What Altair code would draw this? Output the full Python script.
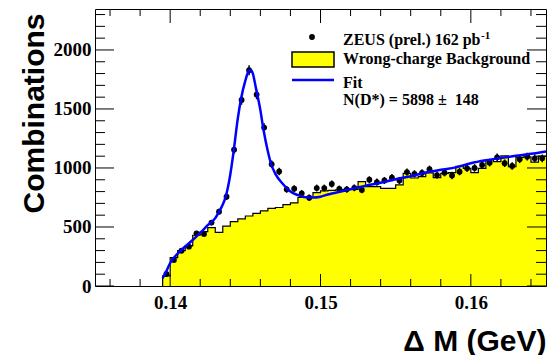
import altair as alt
import pandas as pd

# ---------------- data ----------------
bin_start = 0.1395
bin_width = 0.0005
data_counts = [102, 220, 299, 333, 446, 441, 537, 630, 757, 1155, 1576, 1828, 1622, 1342, 1032,
               970, 819, 825, 785, 748, 830, 830, 864, 822, 819, 832, 814, 900, 880, 894, 918,
               894, 965, 950, 958, 989, 940, 960, 936, 969, 997, 1000, 1025, 1045, 1090, 1040,
               1017, 1074, 1096, 1082, 1082]
data_errors = [10, 15, 17, 18, 21, 21, 23, 25, 28, 34, 40, 43, 40, 37, 32,
               31, 29, 29, 28, 27, 29, 29, 29, 29, 29, 29, 29, 30, 30, 30, 30,
               30, 31, 31, 31, 31, 31, 31, 31, 31, 32, 32, 32, 32, 33, 32,
               32, 33, 33, 33, 33]
bg_counts = [85, 240, 300, 340, 430, 460, 494, 455, 508, 545, 568, 593, 616, 636, 658,
             665, 690, 705, 750, 750, 791, 806, 810, 815, 819, 819, 884, 842, 842, 828, 828,
             856, 955, 915, 926, 958, 918, 955, 960, 1014, 997, 960, 997, 1070, 1054, 1102,
             1011, 1090, 1095, 1050, 1100]
fit_x = [0.1395, 0.1398, 0.1400, 0.1405, 0.1410, 0.1415, 0.1420, 0.1425, 0.1430, 0.1433,
         0.1435, 0.1437, 0.1440, 0.1442, 0.1445, 0.1447, 0.1450, 0.1452, 0.14535, 0.1455,
         0.1457, 0.1460, 0.1462, 0.1465, 0.1467, 0.1470, 0.1475, 0.1480, 0.1485, 0.1490,
         0.1495, 0.1500, 0.1505, 0.1510, 0.1520, 0.1530, 0.1540, 0.1550, 0.1560, 0.1570,
         0.1580, 0.1590, 0.1600, 0.1610, 0.1620, 0.1630, 0.1640, 0.1650]
fit_y = [65, 140, 195, 275, 335, 390, 450, 515, 575, 640,
         690, 760, 945, 1120, 1420, 1576, 1740, 1815, 1830, 1800,
         1680, 1490, 1330, 1140, 1040, 950, 864, 800, 770, 752,
         750, 757, 775, 790, 820, 850, 875, 905, 930, 962,
         985, 1005, 1040, 1065, 1085, 1103, 1120, 1140]

x_major = [0.14, 0.15, 0.16]
x_minor = [0.136, 0.138, 0.142, 0.144, 0.146, 0.148, 0.152, 0.154, 0.156, 0.158, 0.162, 0.164]
y_major = [0, 500, 1000, 1500, 2000]
y_minor = [100, 200, 300, 400, 600, 700, 800, 900, 1100, 1200, 1300, 1400,
           1600, 1700, 1800, 1900, 2100, 2200, 2300]

legend_text = ["ZEUS (prel.) 162 pb", "Wrong-charge Background", "Fit",
               "N(D*) = 5898 \u00b1\u00a0 148"]

# ---------------- tables ----------------
n = len(data_counts)
centers = [bin_start + bin_width * (i + 0.5) for i in range(n)]
pts = pd.DataFrame({
    "m": centers,
    "n": data_counts,
    "lo": [c - e for c, e in zip(data_counts, data_errors)],
    "hi": [c + e for c, e in zip(data_counts, data_errors)],
})
edges = [bin_start + bin_width * i for i in range(n + 1)]
hist = pd.DataFrame({"m": edges, "n": bg_counts + [bg_counts[-1]]})
outline = pd.DataFrame({"m": [bin_start] + edges, "n": [0] + bg_counts + [bg_counts[-1]]})
fit = pd.DataFrame({"m": fit_x, "n": fit_y})
one = pd.DataFrame({"a": [0]})

W, H = 451, 277
xs = alt.Scale(domain=[0.135, 0.165], nice=False, zero=False)
ys = alt.Scale(domain=[0, 2347], nice=False, zero=True)

x_axis = alt.Axis(values=x_major, format=".2f", ticks=False, domain=False, grid=False,
                  labelPadding=7, title="\u0394 M (GeV)", titleX=W, titleY=64,
                  titleAlign="right", titleBaseline="alphabetic", titleAnchor="end",
                  titleFont="Liberation Sans", titleFontSize=30, titleFontWeight="bold")
y_axis = alt.Axis(values=y_major, format="d", ticks=False, domain=False, grid=False,
                  labelPadding=4, title="Combinations", titleAngle=-90, titleX=-52, titleY=4,
                  titleAlign="right", titleBaseline="alphabetic", titleAnchor="end",
                  titleFont="Liberation Sans", titleFontSize=30, titleFontWeight="bold")

X = lambda: alt.X("m:Q", scale=xs, axis=x_axis, title="\u0394 M (GeV)")
Y = lambda f="n:Q": alt.Y(f, scale=ys, axis=y_axis, title="Combinations")

area = alt.Chart(hist).mark_area(interpolate="step-after", color="#ffff00", opacity=1, clip=True).encode(
    x=X(), y=Y())
step = alt.Chart(outline).mark_line(interpolate="step-after", color="black", strokeWidth=1.2, clip=True).encode(
    x=X(), y=Y())
err = alt.Chart(pts).mark_rule(color="black", strokeWidth=1.5).encode(
    x=X(), y=Y("lo:Q"), y2="hi:Q")
dots = alt.Chart(pts).mark_circle(color="black", size=34, opacity=1).encode(
    x=X(), y=Y())
fitline = alt.Chart(fit).mark_line(color="#0000ff", strokeWidth=2.5, interpolate="monotone", clip=True).encode(
    x=X(), y=Y())

def xticks(vals, length, top):
    d = pd.DataFrame({"m": vals})
    if top:
        return alt.Chart(d).mark_rule(color="black", strokeWidth=1).encode(
            x=X(), y=alt.value(0), y2=alt.value(length))
    return alt.Chart(d).mark_rule(color="black", strokeWidth=1).encode(
        x=X(), y=alt.value(H), y2=alt.value(H - length))

def yticks(vals, length, right):
    d = pd.DataFrame({"n": vals})
    if right:
        return alt.Chart(d).mark_rule(color="black", strokeWidth=1).encode(
            y=Y(), x=alt.value(W), x2=alt.value(W - length))
    return alt.Chart(d).mark_rule(color="black", strokeWidth=1).encode(
        y=Y(), x=alt.value(0), x2=alt.value(length))

ticks = [xticks(x_major, 12, False), xticks(x_minor, 7, False),
         xticks(x_major, 14, True), xticks(x_minor, 7, True),
         yticks(y_major, 19, False), yticks(y_minor, 10, False),
         yticks(y_major, 19, True), yticks(y_minor, 10, True)]

def label(txt, x, y, size=16):
    return alt.Chart(one).mark_text(align="left", baseline="alphabetic", font="Liberation Serif",
                                    fontWeight="bold", fontSize=size, color="black").encode(
        x=alt.value(x), y=alt.value(y), text=alt.value(txt))

leg_dot = alt.Chart(one).mark_circle(color="black", size=34, opacity=1).encode(
    x=alt.value(217), y=alt.value(28))
leg_box = alt.Chart(one).mark_rect(fill="#ffff00", stroke="black", strokeWidth=1.5).encode(
    x=alt.value(197), x2=alt.value(239), y=alt.value(43), y2=alt.value(58))
leg_line = alt.Chart(one).mark_rule(color="#0000ff", strokeWidth=2.5).encode(
    x=alt.value(197), x2=alt.value(239), y=alt.value(71))
legend = [leg_dot, leg_box, leg_line,
          label(legend_text[0], 248, 36), label("-1", 386, 30, 11),
          label(legend_text[1], 248, 54.5), label(legend_text[2], 248, 79),
          label(legend_text[3], 248, 96)]

chart = alt.layer(area, step, err, dots, fitline, *ticks, *legend).properties(
    width=W, height=H,
    autosize=alt.AutoSizeParams(type="none"),
    padding={"left": 87, "top": 1, "right": 1, "bottom": 69},
).configure_view(stroke="black", strokeWidth=1).configure_axis(
    labelFont="Liberation Serif", labelFontWeight="bold", labelFontSize=19, labelColor="black",
    titleColor="black")

chart.save("out.html", embed_options={"renderer": "svg", "actions": False})
